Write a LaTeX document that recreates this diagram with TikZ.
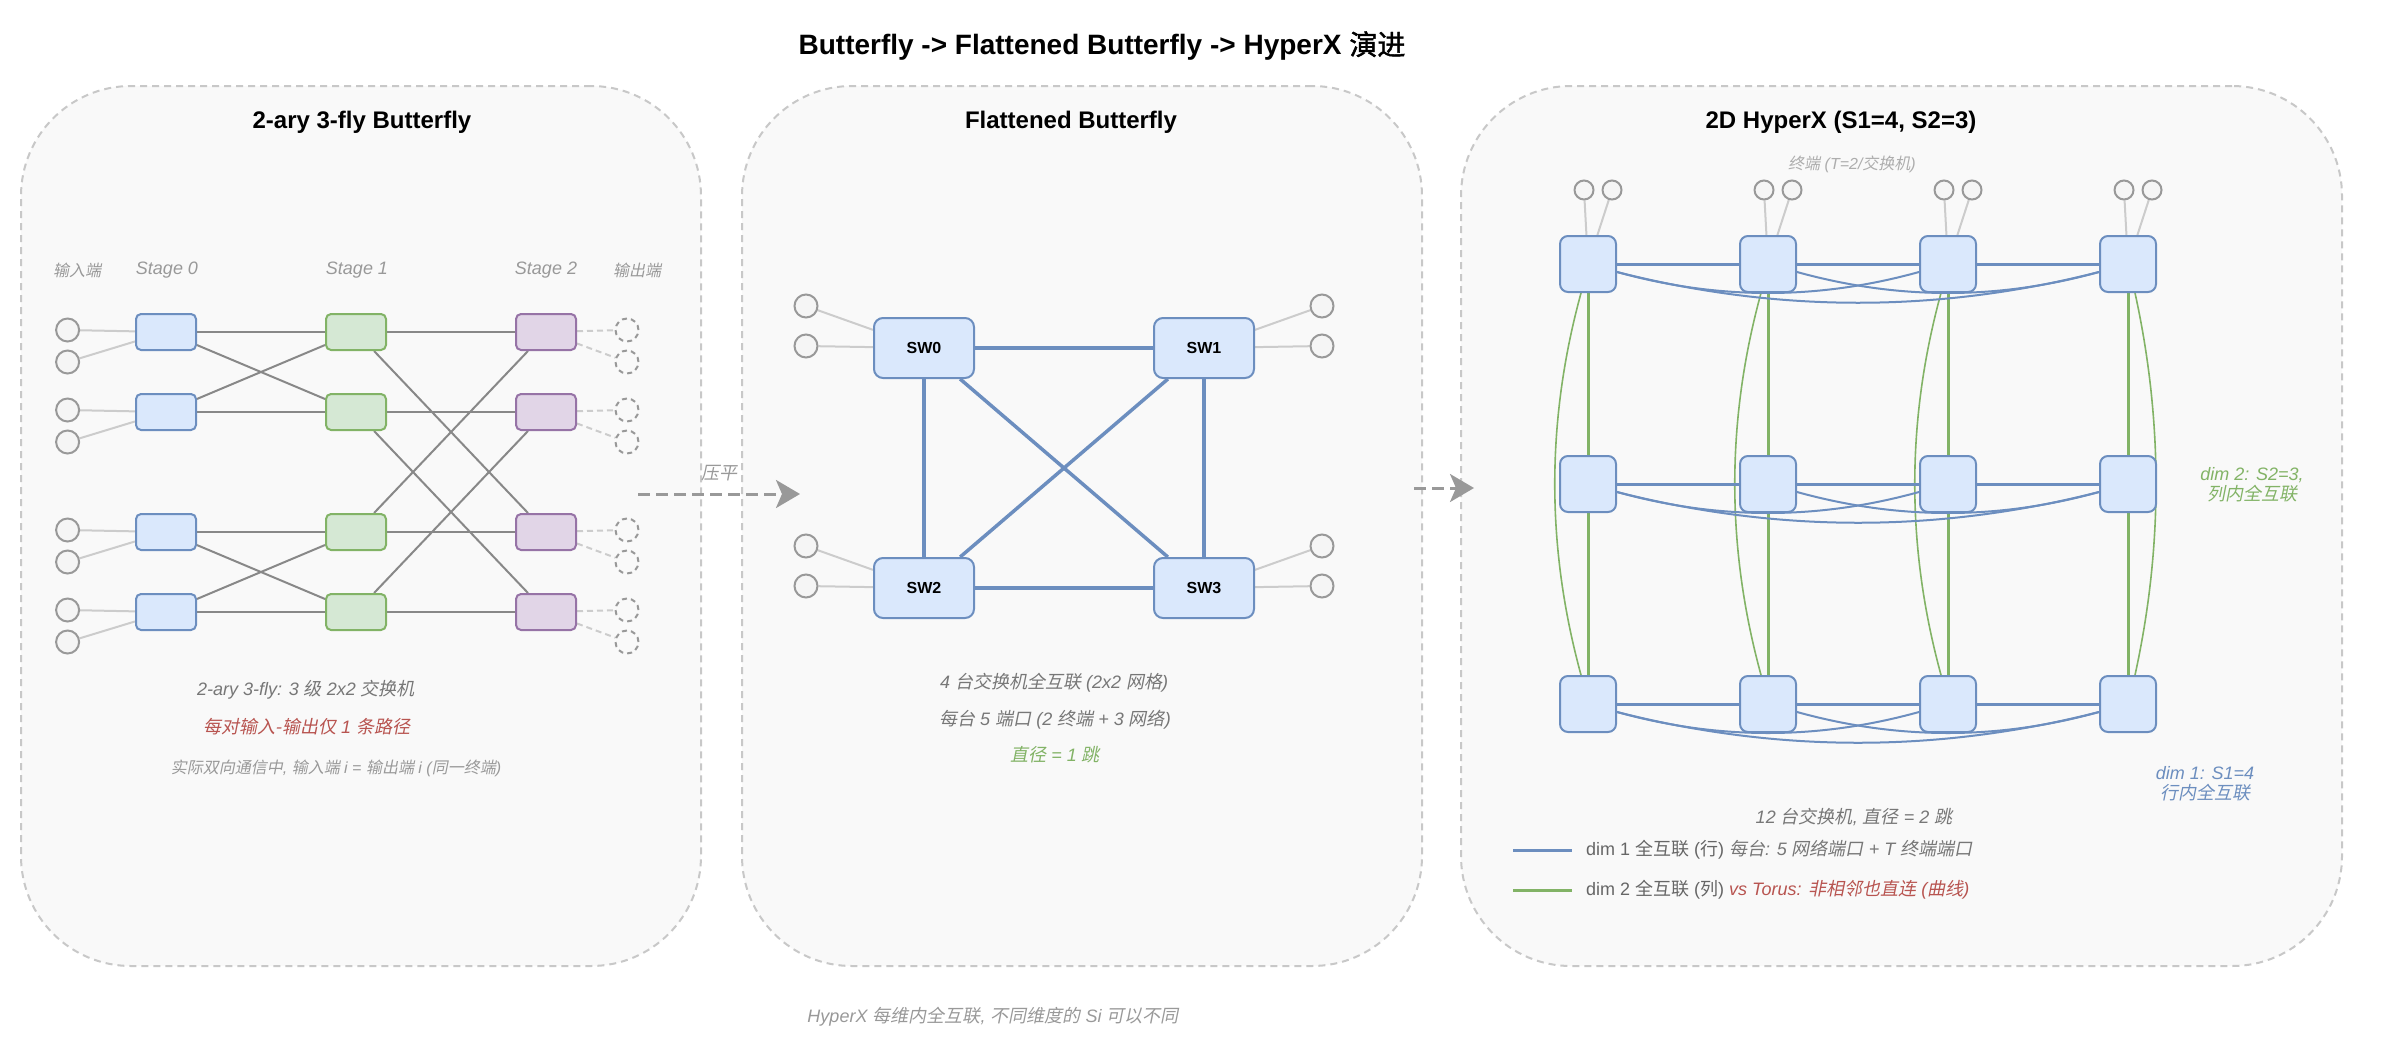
\documentclass[tikz,border=0pt]{standalone}
\usepackage{fontspec}
\setmainfont{Liberation Sans}
\newfontfamily\cjk{Noto Sans CJK SC}[AutoFakeSlant=0.2,AutoFakeBold=1.5]
\newcommand\zh[1]{{\cjk #1}}
\newcommand\setfs[2]{\fontsize{#1pt}{#2pt}\selectfont}
\usetikzlibrary{calc,arrows.meta}
\pgfdeclarelayer{back}\pgfdeclarelayer{mid}\pgfsetlayers{back,mid,main}

\definecolor{bfill}{HTML}{DAE8FC}\definecolor{bdraw}{HTML}{6C8EBF}
\definecolor{gfill}{HTML}{D5E8D4}\definecolor{gdraw}{HTML}{82B366}
\definecolor{pfill}{HTML}{E1D5E7}\definecolor{pdraw}{HTML}{9673A6}
\definecolor{rtext}{HTML}{B85450}
\definecolor{panelbg}{HTML}{F9F9F9}\definecolor{paneledge}{HTML}{C8C8C8}
\definecolor{tfill}{HTML}{F5F5F5}\definecolor{tdraw}{HTML}{999999}
\definecolor{linkgray}{HTML}{888888}\definecolor{termline}{HTML}{CCCCCC}
\definecolor{txtgray}{HTML}{777777}\definecolor{txtlight}{HTML}{999999}
\definecolor{txtdark}{HTML}{666666}

\tikzset{
 panel/.style={draw=paneledge, fill=panelbg, line width=2pt, dash pattern=on 7pt off 5pt, rounded corners=110pt, minimum height=880pt, inner sep=0},
 swzero/.style={draw=bdraw, fill=bfill, line width=2pt, rounded corners=5pt, minimum width=60pt, minimum height=36pt, inner sep=0},
 swone/.style={swzero, draw=gdraw, fill=gfill},
 swtwo/.style={swzero, draw=pdraw, fill=pfill},
 term/.style={circle, draw=tdraw, fill=tfill, line width=2pt, minimum size=23pt, inner sep=0},
 oterm/.style={circle, draw=tdraw, line width=2pt, minimum size=23pt, inner sep=0, dash pattern=on 5pt off 4pt},
 bflink/.style={draw=linkgray, line width=2pt},
 tlink/.style={draw=termline, line width=2pt},
 olink/.style={tlink, dash pattern=on 6pt off 4pt},
 fbsw/.style={draw=bdraw, fill=bfill, line width=2pt, rounded corners=9pt, minimum width=100pt, minimum height=60pt, inner sep=0, font=\bfseries\setfs{16}{16}},
 fblink/.style={draw=bdraw, line width=3.5pt},
 hxsw/.style={draw=bdraw, fill=bfill, line width=2pt, rounded corners=8pt, minimum size=56pt, inner sep=0},
 hxterm/.style={term, minimum size=19pt},
 rowlink/.style={draw=bdraw, line width=3pt},
 rowcurve/.style={draw=bdraw, line width=2pt},
 collink/.style={draw=gdraw, line width=3pt},
 colcurve/.style={draw=gdraw, line width=1.6pt},
 flow/.style={draw=tdraw, line width=3pt, dash pattern=on 12pt off 6pt, -{Stealth[length=24pt,width=28pt,inset=6pt]}},
 txt/.style={inner sep=0, font=\itshape\setfs{18}{21}, text=txtgray, align=center},
 small/.style={inner sep=0, font=\itshape\setfs{16}{19}, text=txtlight, align=center},
 ptitle/.style={inner sep=0, font=\bfseries\setfs{24}{24}, text=black},
}

\begin{document}
\begin{tikzpicture}[x=1pt,y=-1pt]
\useasboundingbox (0,0) rectangle (2384,1044);
\begin{pgfonlayer}{back}
\fill[white] (0,0) rectangle (2384,1044);
\node[panel, minimum width=680pt] (p1) at (361,526) {};
\node[panel, minimum width=680pt] (p2) at (1082,526) {};
\node[panel, minimum width=881pt] (p3) at (1901.5,526) {};
\end{pgfonlayer}

% titles
\node[inner sep=0, font=\bfseries\setfs{28}{28}] (title) at (1102,46) {Butterfly -> Flattened Butterfly -> HyperX \zh{演进}};
\node[ptitle] (t1) at (362,122) {2-ary 3-fly Butterfly};
\node[ptitle] (t2) at (1071,122) {Flattened Butterfly};
\node[ptitle] (t3) at (1841,122) {2D HyperX (S1=4, S2=3)};

% ---------- Butterfly ----------
\node[small] (lin) at (77,270) {\zh{输入端}};
\node[small, font=\itshape\setfs{18}{21}] (ls0) at (167,270) {Stage 0};
\node[small, font=\itshape\setfs{18}{21}] (ls1) at (357,270) {Stage 1};
\node[small, font=\itshape\setfs{18}{21}] (ls2) at (546,270) {Stage 2};
\node[small] (lout) at (637,270) {\zh{输出端}};

\foreach \i/\y in {0/332,1/412,2/532,3/612} {
  \node[swzero] (a\i) at (166,\y) {};
  \node[swone] (b\i) at (356,\y) {};
  \node[swtwo] (c\i) at (546,\y) {};
  \node[term] (ina\i) at (67.6,\y-2) {};
  \node[term] (inb\i) at (67.6,\y+30) {};
  \node[oterm] (outa\i) at (627,\y-2) {};
  \node[oterm] (outb\i) at (627,\y+30) {};
}
\begin{pgfonlayer}{mid}
\foreach \i in {0,...,3} {
  \draw[bflink] (a\i) -- (b\i);
  \draw[bflink] (b\i) -- (c\i);
  \draw[tlink] (ina\i) -- (a\i);
  \draw[tlink] (inb\i) -- (a\i);
  \draw[olink] (c\i) -- (outa\i);
  \draw[olink] (c\i) -- (outb\i);
}
\draw[bflink] (a0) -- (b1);
\draw[bflink] (a1) -- (b0);
\draw[bflink] (a2) -- (b3);
\draw[bflink] (a3) -- (b2);
\draw[bflink] (b0) -- (c2);
\draw[bflink] (b2) -- (c0);
\draw[bflink] (b1) -- (c3);
\draw[bflink] (b3) -- (c1);
\end{pgfonlayer}

\node[txt] (bt1) at (306,690) {2-ary 3-fly: 3 \zh{级} 2x2 \zh{交换机}};
\node[txt, text=rtext] (bt2) at (307,727) {\zh{每对输入-输出仅} 1 \zh{条路径}};
\node[small] (bt3) at (336,768) {\zh{实际双向通信中}, \zh{输入端} i = \zh{输出端} i (\zh{同一终端})};

% arrow 1
\coordinate (fa1) at (638,494);
\coordinate (fa2) at (800,494);
\draw[flow] (fa1) -- (fa2);
\node[txt, text=txtlight] (flat) at (719,473) {\zh{压平}};

% ---------- Flattened Butterfly ----------
\node[fbsw] (sw0) at (924,348) {SW0};
\node[fbsw] (sw1) at (1204,348) {SW1};
\node[fbsw] (sw2) at (924,588) {SW2};
\node[fbsw] (sw3) at (1204,588) {SW3};
\node[term] (fta0) at (806,306) {};
\node[term] (ftb0) at (806,346) {};
\node[term] (fta1) at (1322,306) {};
\node[term] (ftb1) at (1322,346) {};
\node[term] (fta2) at (806,546) {};
\node[term] (ftb2) at (806,586) {};
\node[term] (fta3) at (1322,546) {};
\node[term] (ftb3) at (1322,586) {};
\begin{pgfonlayer}{mid}
\foreach \i in {0,...,3} {
  \draw[tlink] (fta\i) -- (sw\i);
  \draw[tlink] (ftb\i) -- (sw\i);
}
\draw[fblink] (sw0) -- (sw1);
\draw[fblink] (sw2) -- (sw3);
\draw[fblink] (sw0) -- (sw2);
\draw[fblink] (sw1) -- (sw3);
\draw[fblink] (sw0) -- (sw3);
\draw[fblink] (sw1) -- (sw2);
\end{pgfonlayer}
\node[txt] (ft1) at (1054,683) {4 \zh{台交换机全互联} (2x2 \zh{网格})};
\node[txt] (ft2) at (1055,720) {\zh{每台} 5 \zh{端口} (2 \zh{终端} + 3 \zh{网络})};
\node[txt, text=gdraw] (ft3) at (1055,755) {\zh{直径} = 1 \zh{跳}};

% arrow 2
\coordinate (fb1) at (1414,488);
\coordinate (fb2) at (1474,488);
\draw[flow] (fb1) -- (fb2);

% ---------- HyperX ----------
\node[small, text=txtlight!80] (hterm) at (1852,164) {\zh{终端} (T=2/\zh{交换机})};
\foreach \c/\x in {1/1588,2/1768,3/1948,4/2128} {
  \foreach \r/\y in {1/264,2/484,3/704} {
    \node[hxsw] (h\r\c) at (\x,\y) {};
  }
  \node[hxterm] (hta\c) at (\x-4,190) {};
  \node[hxterm] (htb\c) at (\x+24,190) {};
}
\begin{pgfonlayer}{mid}
\foreach \c in {1,...,4} {
  \draw[tlink] (hta\c) -- (h1\c);
  \draw[tlink] (htb\c) -- (h1\c);
  \draw[collink] (h1\c) -- (h2\c);
  \draw[collink] (h2\c) -- (h3\c);
}
\foreach \c in {1,2,3} {
  \draw[colcurve] ($(h1\c.south)+(-7,0)$) .. controls +(-35,128) and +(-35,-128) .. ($(h3\c.north)+(-7,0)$);
}
\draw[colcurve] ($(h14.south)+(7,0)$) .. controls +(28,128) and +(28,-128) .. ($(h34.north)+(7,0)$);
\foreach \r in {1,2,3} {
  \draw[rowlink] (h\r1) -- (h\r2);
  \draw[rowlink] (h\r2) -- (h\r3);
  \draw[rowlink] (h\r3) -- (h\r4);
  \draw[rowcurve] ($(h\r1.east)+(0,8)$) .. controls +(101,28) and +(-101,28) .. ($(h\r3.west)+(0,8)$);
  \draw[rowcurve] ($(h\r2.east)+(0,8)$) .. controls +(101,28) and +(-101,28) .. ($(h\r4.west)+(0,8)$);
  \draw[rowcurve] ($(h\r1.east)+(0,8)$) .. controls +(161,41) and +(-161,41) .. ($(h\r4.west)+(0,8)$);
}
\end{pgfonlayer}

\node[txt, text=gdraw, font=\itshape\setfs{18}{20}] (d2) at (2252,485) {dim 2: S2=3,\\\zh{列内全互联}};
\node[txt, text=bdraw, font=\itshape\setfs{18}{20}] (d1) at (2205,784) {dim 1: S1=4\\\zh{行内全互联}};
\node[txt] (hx1) at (1854,817) {12 \zh{台交换机}, \zh{直径} = 2 \zh{跳}};

\coordinate (lg1a) at (1513,850);
\coordinate (lg1b) at (1572,850);
\coordinate (lg2a) at (1513,890);
\coordinate (lg2b) at (1572,890);
\draw[rowlink] (lg1a) -- (lg1b);
\draw[collink] (lg2a) -- (lg2b);
\node[inner sep=0, anchor=west, font=\setfs{18}{21}, text=txtdark] (lt1) at (1586,850) {dim 1 \zh{全互联} (\zh{行}) {\itshape\color{txtgray}\zh{每台}: 5 \zh{网络端口} + T \zh{终端端口}}};
\node[inner sep=0, anchor=west, font=\setfs{18}{21}, text=txtdark] (lt2) at (1586,890) {dim 2 \zh{全互联} (\zh{列}) {\itshape\color{rtext}vs Torus: \zh{非相邻也直连} (\zh{曲线})}};

% footer
\node[txt, text=txtlight] (foot) at (993,1017) {HyperX \zh{每维内全互联}, \zh{不同维度的} Si \zh{可以不同}};
\end{tikzpicture}
\end{document}
